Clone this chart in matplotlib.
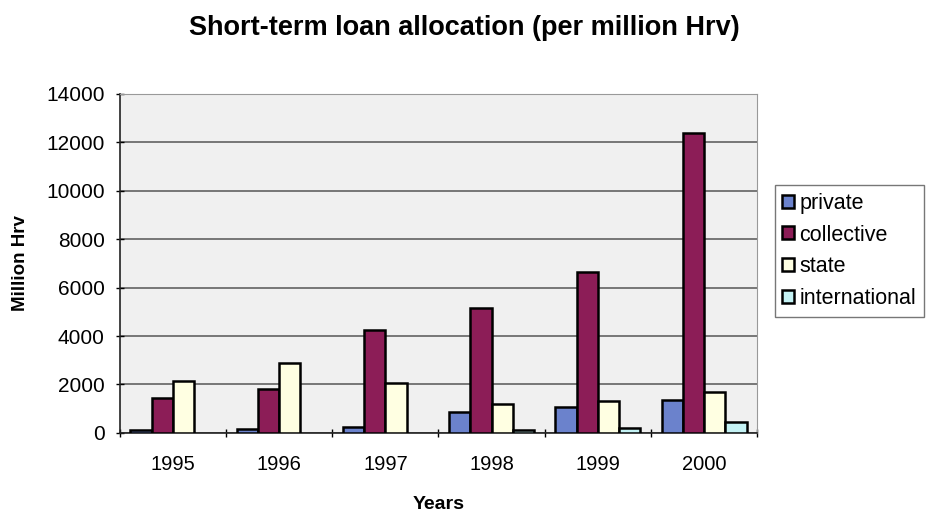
import numpy as np
import matplotlib.pyplot as plt
from matplotlib.patches import Patch

plt.rcParams['font.family'] = ['Liberation Sans', 'DejaVu Sans']

years = ['1995', '1996', '1997', '1998', '1999', '2000']
private = [100, 150, 250, 850, 1050, 1350]
collective = [1450, 1800, 4250, 5150, 6650, 12400]
state = [2150, 2900, 2050, 1200, 1300, 1700]
international = [0, 0, 0, 100, 220, 450]

series = [('private', private, '#6b82cc'),
          ('collective', collective, '#8c1d57'),
          ('state', state, '#ffffe2'),
          ('international', international, '#c4f2f4')]

fig = plt.figure(figsize=(9.29, 5.19), dpi=100)
ax = fig.add_axes([0.129, 0.166, 0.686, 0.653])
ax.set_facecolor('#f0f0f0')

x = np.arange(len(years))
w = 0.2
for i, (name, vals, col) in enumerate(series):
    vals = np.array(vals)
    keep = vals > 0  # no bar drawn where there is no value
    ax.bar(x[keep] + (i - 1.5) * w, vals[keep], w, color=col, edgecolor='black',
           linewidth=1.8, zorder=3)

ax.set_xlim(-0.5, len(years) - 0.5)
ax.set_ylim(0, 14000)
ax.set_yticks(range(0, 14001, 2000))
ax.yaxis.grid(True, color='#555555', linewidth=1.1, zorder=0)
ax.set_xticks(x)
ax.set_xticklabels(years, fontsize=14.5)
ax.tick_params(axis='x', length=0, pad=16)
ax.set_xticks(np.arange(-0.5, len(years), 1), minor=True)
ax.tick_params(axis='x', which='minor', length=6, direction='inout', width=1)
ax.tick_params(axis='y', labelsize=15, length=6, direction='inout', width=1, pad=8)

for s in ['top', 'right']:
    ax.spines[s].set_color('#999999')
for s in ['left', 'bottom']:
    ax.spines[s].set_color('#222222')
    ax.spines[s].set_linewidth(1.2)

ax.set_ylabel('Million Hrv', fontsize=13.5, fontweight='bold', labelpad=12)
ax.set_xlabel('Years', fontsize=14, fontweight='bold', labelpad=16)
fig.suptitle('Short-term loan allocation (per million Hrv)', fontsize=19.5,
             fontweight='bold', y=0.972)

handles = [Patch(facecolor=c, edgecolor='black', linewidth=1.8, label=n)
           for n, _, c in series]
leg = fig.legend(handles=handles, loc='upper left', bbox_to_anchor=(0.834, 0.643),
                 fontsize=15.5, frameon=True, fancybox=False, edgecolor='#555555',
                 handlelength=0.55, handleheight=0.55, handletextpad=0.25,
                 borderpad=0.35, labelspacing=0.5, borderaxespad=0)
leg.get_frame().set_linewidth(1)

fig.savefig('out.png', dpi=100)
